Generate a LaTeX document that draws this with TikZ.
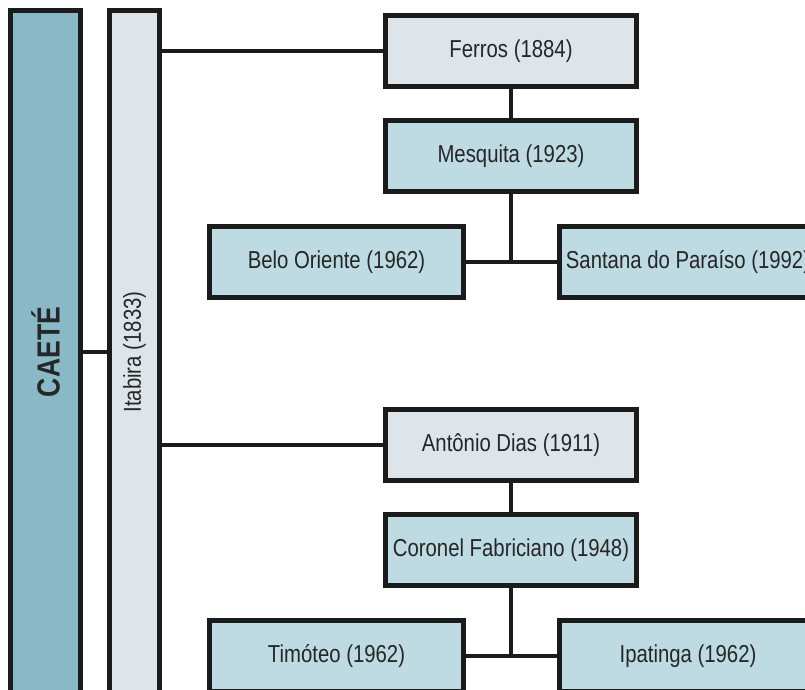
\documentclass[tikz,border=0pt]{standalone}
\usepackage{fontspec}
\setmainfont[FakeStretch=0.83]{Liberation Sans}
\usetikzlibrary{positioning}
\definecolor{barblue}{HTML}{89B9C6}
\definecolor{paleblue}{HTML}{DDE5EA}
\definecolor{midblue}{HTML}{BEDAE2}
\definecolor{inkline}{HTML}{1B1B1B}
\definecolor{inktext}{HTML}{262626}

\begin{document}
\begin{tikzpicture}[
            x=1pt, y=-1pt,
            node distance = 29pt,
            box/.style = {draw=inkline, line width=5pt, minimum height=71pt, inner sep=0pt,
                          text=inktext, font=\fontsize{24.5}{28}\selectfont},
            topbox/.style = {box, fill=paleblue, minimum width=251pt},
            midbox/.style = {box, fill=midblue, minimum width=251pt},
            leaf/.style = {box, fill=midblue, minimum width=254pt},
            wideleaf/.style = {box, fill=midblue, minimum width=257pt},
            bar/.style = {draw=inkline, line width=5pt, minimum height=683pt, inner sep=0pt},
            line/.style = {draw=inkline, line width=4pt},
            ]
            \useasboundingbox (0,0) rectangle (805,690);
            \clip (0,0) rectangle (805,690);

            % the two vertical bars
            \node[bar, fill=barblue, minimum width=70pt] (Caete) at (45.5,352) {};
            \node[bar, fill=paleblue, minimum width=50pt] (Itabira) at (134.5,352) {};
            \node[rotate=90, text=inktext, font=\bfseries\fontsize{32}{36}\selectfont] (CaeteLbl) at (Caete) {CAETÉ};
            \node[rotate=90, text=inktext, font=\fontsize{24.5}{28}\selectfont] (ItabiraLbl) at (Itabira) {Itabira (1833)};

            % upper branch
            \node[topbox] (Ferros) at (511,51) {Ferros (1884)};
            \node[midbox, below=of Ferros] (Mesquita) {Mesquita (1923)};
            \node[leaf] (BeloOriente) at (336.5,262) {Belo Oriente (1962)};
            \node[wideleaf] (Santana) at (688,262) {Santana do Paraíso (1992)};

            % lower branch
            \node[topbox] (AntonioDias) at (511,445) {Antônio Dias (1911)};
            \node[midbox, below=of AntonioDias] (Coronel) {Coronel Fabriciano (1948)};
            \node[leaf] (Timoteo) at (336.5,656) {Timóteo (1962)};
            \node[wideleaf] (Ipatinga) at (688,656) {Ipatinga (1962)};

            \draw[line] (Caete.east) -- (Itabira.west);
            \draw[line] (Itabira.east |- Ferros.west) -- (Ferros.west);
            \draw[line] (Itabira.east |- AntonioDias.west) -- (AntonioDias.west);
            \draw[line] (Ferros.south) -- (Mesquita.north);
            \draw[line] (AntonioDias.south) -- (Coronel.north);
            \draw[line] (BeloOriente.east) -- (Santana.west);
            \draw[line] (Mesquita.south) -- (Mesquita.south |- BeloOriente.east);
            \draw[line] (Timoteo.east) -- (Ipatinga.west);
            \draw[line] (Coronel.south) -- (Coronel.south |- Timoteo.east);
        \end{tikzpicture}
\end{document}
